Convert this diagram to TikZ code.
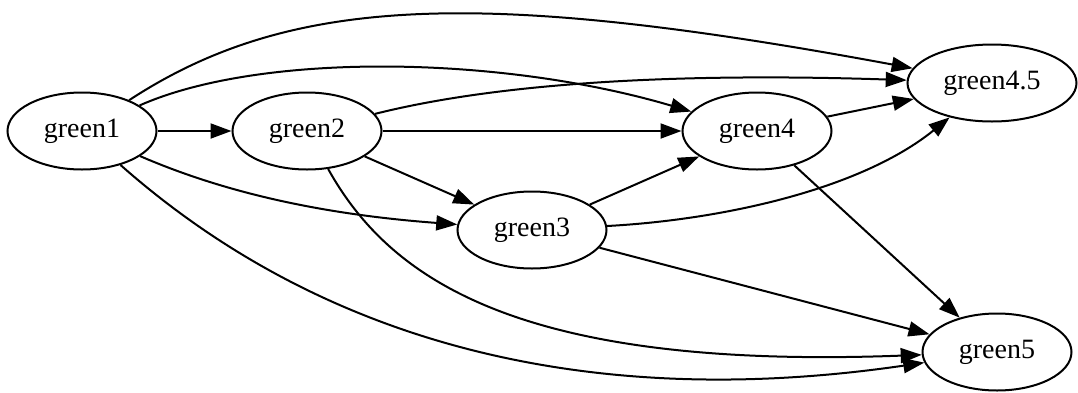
\documentclass[tikz,border=0pt]{standalone}
\usepackage{fontspec}
\setmainfont{Liberation Serif}
\usetikzlibrary{arrows.meta, shapes.geometric}

\begin{document}
\begin{tikzpicture}[x=0.5pt, y=-0.5pt, line width=1pt, >={Triangle[length=10.5pt, width=7.5pt]}, every node/.style={draw, ellipse, inner sep=0pt, minimum width=74.5pt, minimum height=38.5pt, text centered, font=\fontsize{14}{17}\selectfont}]
\useasboundingbox (0,0) rectangle (1078,392);

  % Nodes
  \node (green1) at (82,131) {green1};
  \node (green2) at (307,131) {green2};
  \node (green3) at (532,230) {green3};
  \node (green4) at (757,131) {green4};
  \node (green45) [minimum width=84.5pt] at (992,83) {green4.5};
  \node (green5) at (997,352) {green5};

  % Arrows
  \draw[->] (green1) -- (green2);
  \draw[->] (green1) .. controls (290,-5) and (480,-12) .. (green45);
  \draw[->] (green1) .. controls (260,52) and (500,55) .. (green4);
  \draw[->] (green1) .. controls (230,195) and (330,215) .. (green3);
  \draw[->] (green1) .. controls (330,350) and (600,410) .. (green5);
  \draw[->] (green2) -- (green4);
  \draw[->] (green2) -- (green3);
  \draw[->] (green2) .. controls (450,95) and (600,70) .. (green45);
  \draw[->] (green2) .. controls (390,280) and (520,370) .. (green5);
  \draw[->] (green3) -- (green4);
  \draw[->] (green3) .. controls (720,220) and (860,190) .. (green45);
  \draw[->] (green3) -- (green5);
  \draw[->] (green4) -- (green45);
  \draw[->] (green4) -- (green5);

\end{tikzpicture}
\end{document}
